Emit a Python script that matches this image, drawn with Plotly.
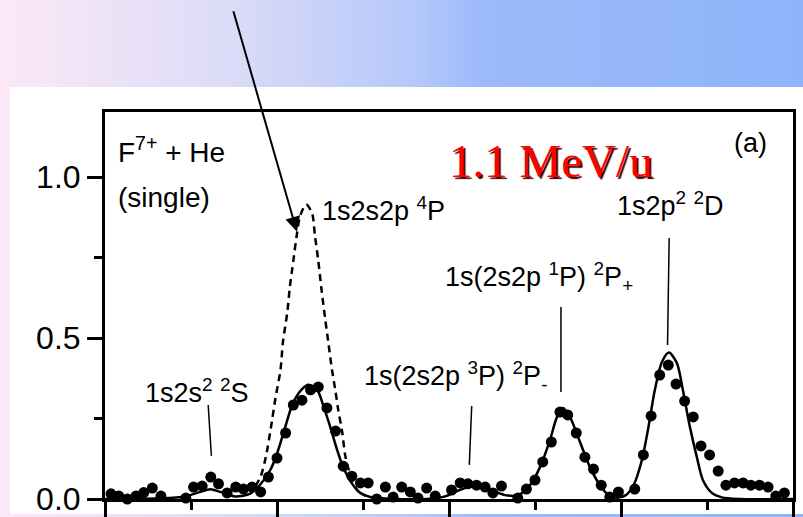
import base64
import plotly.graph_objects as go

# ---------------- data ----------------
dot_x = [-0.03, 0.07, 0.16, 0.26, 0.36, 0.45, 0.55, 0.65, 0.74, 0.84,
         0.94, 1.03, 1.13, 1.23, 1.32, 1.42, 1.52, 1.61, 1.71, 1.81,
         1.90, 2.00, 2.10, 2.19, 2.29, 2.39, 2.48, 2.58, 2.68, 2.77,
         2.87, 2.97, 3.06, 3.16, 3.26, 3.35, 3.45, 3.55, 3.64, 3.74,
         3.84, 3.93, 4.03, 4.13, 4.22, 4.32, 4.42, 4.51, 4.61, 4.71,
         4.80, 4.90, 5.00, 5.09, 5.19, 5.29, 5.38, 5.48, 5.58, 5.68,
         5.77, 5.87, 5.97, 6.06, 6.16, 6.26, 6.35, 6.45, 6.55, 6.64,
         6.74, 6.84, 6.93, 7.03, 7.13, 7.22, 7.32, 7.42, 7.51, 7.61,
         7.71, 7.80, 7.90, 8.00, 8.09]
dot_y = [0.009, 0.016, 0.009, 0.000, 0.009, 0.020, 0.034, 0.009, -0.003, -0.003,
         0.003, 0.037, 0.040, 0.068, 0.047, 0.019, 0.037, 0.031, 0.037, 0.022,
         0.068, 0.127, 0.205, 0.292, 0.307, 0.339, 0.348, 0.283, 0.211, 0.102,
         0.071, 0.050, 0.050, 0.000, 0.037, 0.006, 0.037, 0.022, 0.003, 0.034,
         0.009, -0.012, 0.028, 0.050, 0.047, 0.043, 0.037, 0.019, 0.040, -0.006,
         0.003, 0.031, 0.059, 0.115, 0.177, 0.270, 0.261, 0.205, 0.130, 0.093,
         0.043, 0.006, 0.022, -0.028, 0.031, 0.137, 0.258, 0.385, 0.416, 0.357,
         0.304, 0.255, 0.165, 0.137, 0.087, 0.043, 0.050, 0.050, 0.043, 0.043,
         0.037, 0.009, 0.019, -0.006, -0.003]

fit_x = [0.0, 0.645, 0.935, 1.109, 1.225, 1.341, 1.516, 1.69, 1.806, 1.922,
         2.003, 2.096, 2.189, 2.294, 2.364, 2.468, 2.538, 2.619, 2.70, 2.77,
         2.875, 2.967, 3.084, 3.316, 3.78, 3.955, 4.094, 4.303, 4.512, 4.652,
         4.803, 4.942, 5.058, 5.174, 5.256, 5.325, 5.406, 5.523, 5.639, 5.755,
         5.859, 5.952, 6.057, 6.15, 6.243, 6.313, 6.394, 6.475, 6.557, 6.65,
         6.719, 6.801, 6.882, 6.952, 7.056, 7.172, 7.381, 8.0]
fit_y = [0.0, 0.002, 0.008, 0.022, 0.030, 0.022, 0.008, 0.017, 0.045, 0.090,
         0.143, 0.224, 0.300, 0.342, 0.355, 0.339, 0.290, 0.224, 0.152, 0.099,
         0.047, 0.019, 0.006, 0.001, 0.001, 0.008, 0.025, 0.040, 0.025, 0.012,
         0.012, 0.043, 0.099, 0.183, 0.255, 0.283, 0.255, 0.177, 0.099, 0.043,
         0.012, 0.004, 0.012, 0.045, 0.121, 0.214, 0.339, 0.425, 0.455, 0.422,
         0.339, 0.224, 0.130, 0.059, 0.019, 0.005, 0.0, 0.0]

quartet_x = [1.75, 1.81, 1.87, 1.94, 1.98, 2.04, 2.07, 2.12, 2.15, 2.19,
             2.23, 2.27, 2.34, 2.41, 2.44, 2.48, 2.52, 2.56, 2.60, 2.64,
             2.68, 2.71, 2.76, 2.79, 2.83, 2.88, 2.94, 3.03]
quartet_y = [0.04, 0.07, 0.13, 0.24, 0.31, 0.40, 0.49, 0.58, 0.66, 0.74,
             0.82, 0.88, 0.915, 0.885, 0.82, 0.74, 0.645, 0.56, 0.48, 0.40,
             0.335, 0.28, 0.205, 0.14, 0.095, 0.055, 0.025, 0.01]

y_tick_vals = [0.0, 0.5, 1.0]
y_tick_text = ["0.0", "0.5", "1.0"]

labels = ["1s2s<sup>2</sup> <sup>2</sup>S",
          "1s2s2p <sup>4</sup>P",
          "1s(2s2p <sup>3</sup>P) <sup>2</sup>P<sub>-</sub>",
          "1s(2s2p <sup>1</sup>P) <sup>2</sup>P<sub>+</sub>",
          "1s2p<sup>2</sup> <sup>2</sup>D"]
label_x = [0.436, 2.502, 2.991, 3.931, 5.929]
label_y = [0.337, 0.901, 0.381, 0.689, 0.916]

leader_x0 = [1.200, 4.264, 5.302, 6.560]
leader_y0 = [0.292, 0.289, 0.596, 0.811]
leader_x1 = [1.237, 4.236, 5.302, 6.541]
leader_y1 = [0.134, 0.106, 0.332, 0.478]

# ---------------- background ----------------
W, H = 803, 517
svg = f'''<svg xmlns="http://www.w3.org/2000/svg" width="{W}" height="{H}">
<defs><linearGradient id="g" x1="0" y1="0" x2="1" y2="0">
<stop offset="0" stop-color="#fce8f7"/>
<stop offset="0.28" stop-color="#dcdcf8"/>
<stop offset="0.52" stop-color="#b4c8fa"/>
<stop offset="0.6" stop-color="#9cbafa"/>
<stop offset="1" stop-color="#8fb3fa"/>
</linearGradient></defs>
<rect width="{W}" height="{H}" fill="url(#g)"/>
<rect x="10" y="87" width="{W-10}" height="427" fill="#ffffff"/>
</svg>'''
bg_src = "data:image/svg+xml;base64," + base64.b64encode(svg.encode()).decode()

L, R, T, B = 105, 10, 112, 18
pw, ph = W - L - R, H - T - B

fig = go.Figure()
fig.add_trace(go.Scatter(x=fit_x, y=fit_y, mode="lines",
                         line=dict(color="black", width=2.5, shape="spline", smoothing=0.8),
                         hoverinfo="skip"))
fig.add_trace(go.Scatter(x=quartet_x, y=quartet_y, mode="lines",
                         line=dict(color="black", width=2.5, dash="7px,5px", shape="spline", smoothing=0.8),
                         hoverinfo="skip"))
fig.add_trace(go.Scatter(x=dot_x, y=dot_y, mode="markers",
                         marker=dict(color="black", size=11),
                         cliponaxis=False))

txt_font = dict(family="Liberation Sans, Arial, sans-serif", size=27, color="black")
for t, x, y in zip(labels, label_x, label_y):
    fig.add_annotation(x=x, y=y, text=t, showarrow=False, xanchor="left",
                       yanchor="middle", font=txt_font)

big_font = dict(family="Liberation Sans, Arial, sans-serif", size=28, color="black")
fig.add_annotation(x=0.125, y=1.085, text="F<sup>7+</sup> + He",
                   showarrow=False, xanchor="left", yanchor="middle", font=big_font)
fig.add_annotation(x=0.125, y=0.935, text="(single)",
                   showarrow=False, xanchor="left", yanchor="middle", font=big_font)
fig.add_annotation(x=7.50, y=1.105, text="(a)", showarrow=False,
                   xanchor="center", yanchor="middle", font=txt_font)
fig.add_annotation(x=5.186, y=1.051, text="1.1 MeV/u", showarrow=False,
                   xanchor="center", yanchor="middle",
                   font=dict(family="Liberation Serif, Times New Roman, serif", size=47,
                             color="#ff0000", shadow="2px 2px 1px #300000"))
# arrow pointing at the quartet peak
fig.add_annotation(x=2.232, y=0.830, ax=-64, ay=-222, axref="pixel", ayref="pixel",
                   text="", showarrow=True, arrowhead=2, arrowsize=1.5,
                   arrowwidth=2, arrowcolor="black")

for x0, y0, x1, y1 in zip(leader_x0, leader_y0, leader_x1, leader_y1):
    fig.add_shape(type="line", x0=x0, y0=y0, x1=x1, y1=y1, xref="x", yref="y",
                  line=dict(color="black", width=1.5))

fig.add_layout_image(dict(source=bg_src, xref="paper", yref="paper",
                          x=-L / pw, y=1 + T / ph, sizex=W / pw, sizey=H / ph,
                          xanchor="left", yanchor="top", sizing="stretch", layer="below"))

fig.update_layout(
    width=W, height=H, margin=dict(l=L, r=R, t=T, b=B, autoexpand=False),
    paper_bgcolor="rgba(0,0,0,0)", plot_bgcolor="white", showlegend=False,
    xaxis=dict(range=[0, 8], tick0=0, dtick=2, ticks="outside", ticklen=18, tickwidth=3,
               tickcolor="black", showticklabels=False, showline=True, mirror=True,
               linewidth=3, linecolor="black", showgrid=False, zeroline=False, automargin=False,
               minor=dict(dtick=1, ticks="outside", ticklen=8, tickwidth=3, tickcolor="black",
                          showgrid=False)),
    yaxis=dict(range=[0, 1.202], tickvals=y_tick_vals, ticktext=y_tick_text, ticks="outside",
               ticklen=15, tickwidth=3, tickcolor="black", showline=True, mirror=True,
               linewidth=3, linecolor="black", showgrid=False, zeroline=False, automargin=False,
               ticklabeloverflow="allow",
               tickfont=dict(family="Liberation Sans, Arial, sans-serif", size=32, color="black"),
               minor=dict(tickvals=[0.25, 0.75], ticks="outside", ticklen=8, tickwidth=3,
                          tickcolor="black", showgrid=False)),
)

fig.write_html("out.html", config={"displayModeBar": False},
               post_script="document.body.style.margin='0px';document.body.style.overflow='hidden';")
